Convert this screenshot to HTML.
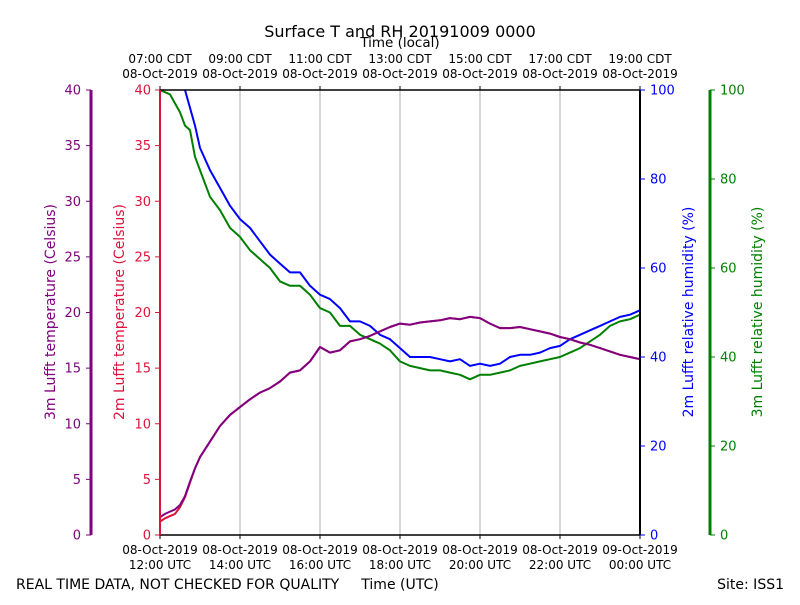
<!DOCTYPE html>
<html><head><meta charset="utf-8"><style>
body{margin:0;background:#fff}
svg{font-family:"DejaVu Sans","Liberation Sans",sans-serif}
</style></head><body>
<svg id="c" width="800" height="600" viewBox="0 0 800 600"></svg>
<script>
const hours=[0,0.125,0.25,0.375,0.5,0.625,0.75,0.875,1,1.25,1.5,1.75,2,2.25,2.5,2.75,3,3.25,3.5,3.75,4,4.25,4.5,4.75,5,5.25,5.5,5.75,6,6.25,6.5,6.75,7,7.25,7.5,7.75,8,8.25,8.5,8.75,9,9.25,9.5,9.75,10,10.25,10.5,10.75,11,11.25,11.5,11.75,12];
const temp3m=[1.6,1.9,2.1,2.3,2.7,3.5,4.8,6.0,7.0,8.4,9.8,10.8,11.5,12.2,12.8,13.2,13.8,14.6,14.8,15.6,16.9,16.4,16.6,17.4,17.6,17.9,18.3,18.7,19.0,18.9,19.1,19.2,19.3,19.5,19.4,19.6,19.5,19.0,18.6,18.6,18.7,18.5,18.3,18.1,17.8,17.6,17.3,17.1,16.8,16.5,16.2,16.0,15.8];
const temp2m=[1.2,1.5,1.7,1.9,2.5,3.4,4.7,6.0,7.0,8.4,9.8,10.8,11.5,12.2,12.8,13.2,13.8,14.6,14.8,15.6,16.9,16.4,16.6,17.4,17.6,17.9,18.3,18.7,19.0,18.9,19.1,19.2,19.3,19.5,19.4,19.6,19.5,19.0,18.6,18.6,18.7,18.5,18.3,18.1,17.8,17.6,17.3,17.1,16.8,16.5,16.2,16.0,15.8];
const rh2m=[106,106,105,103,101,100,96,92,87,82,78,74,71,69,66,63,61,59,59,56,54,53,51,48,48,47,45,44,42,40,40,40,39.5,39,39.5,38,38.5,38,38.5,40,40.5,40.5,41,42,42.5,44,45,46,47,48,49,49.5,50.5];
const rh3m=[100,99.5,99,97,95,92,91,85,82,76,73,69,67,64,62,60,57,56,56,54,51,50,47,47,45,44,43,41.5,39,38,37.5,37,37,36.5,36,35,36,36,36.5,37,38,38.5,39,39.5,40,41,42,43.5,45,47,48,48.5,49.5];
const tempTicks=[0,5,10,15,20,25,30,35,40];
const rhTicks=[0,20,40,60,80,100];
const utcLabels=["08-Oct-2019|12:00 UTC","08-Oct-2019|14:00 UTC","08-Oct-2019|16:00 UTC","08-Oct-2019|18:00 UTC","08-Oct-2019|20:00 UTC","08-Oct-2019|22:00 UTC","09-Oct-2019|00:00 UTC"];
const localLabels=["07:00 CDT|08-Oct-2019","09:00 CDT|08-Oct-2019","11:00 CDT|08-Oct-2019","13:00 CDT|08-Oct-2019","15:00 CDT|08-Oct-2019","17:00 CDT|08-Oct-2019","19:00 CDT|08-Oct-2019"];
const L=160,R=640,T=90,B=535;
const X=h=>L+h*(R-L)/12;
const YT=v=>B-v*(B-T)/40;
const YR=v=>B-v*(B-T)/100;
const svg=document.getElementById('c');const NS='http://www.w3.org/2000/svg';
function el(tag,a,txt){const e=document.createElementNS(NS,tag);for(const k in a)e.setAttribute(k,a[k]);if(txt!==undefined)e.textContent=txt;svg.appendChild(e);return e;}
const cp=el('clipPath',{id:'pc'});const cr=document.createElementNS(NS,'rect');cr.setAttribute('x',L);cr.setAttribute('y',T);cr.setAttribute('width',R-L);cr.setAttribute('height',B-T);cp.appendChild(cr);
for(let i=1;i<6;i++){const g=el('line',{x1:X(i*2),x2:X(i*2),y1:T,y2:B,stroke:'#b0b0b0','stroke-width':1});

}
function series(vals,yf,color,name){const d=vals.map((v,i)=>(i?'L':'M')+X(hours[i]).toFixed(1)+','+yf(v).toFixed(1)).join('');
const p=el('path',{d:d,fill:'none',stroke:color,'stroke-width':2,'clip-path':'url(#pc)','stroke-linejoin':'round'});

}
series(rh3m,YR,'green','rh-3m-line');
series(rh2m,YR,'blue','rh-2m-line');
series(temp2m,YT,'crimson','temp-2m-line');
series(temp3m,YT,'purple','temp-3m-line');
el('line',{x1:L,x2:R,y1:T,y2:T,stroke:'#000','stroke-width':1.5});
el('line',{x1:L,x2:R,y1:B,y2:B,stroke:'#000','stroke-width':1.5});
el('line',{x1:L,x2:L,y1:T,y2:B,stroke:'crimson','stroke-width':2});
el('line',{x1:R,x2:R,y1:T,y2:B,stroke:'#000','stroke-width':2});
el('line',{x1:91,x2:91,y1:T,y2:B,stroke:'purple','stroke-width':3});
el('line',{x1:710,x2:710,y1:T,y2:B,stroke:'green','stroke-width':3});
tempTicks.forEach(v=>{const y=YT(v);
el('line',{x1:86,x2:91,y1:y,y2:y,stroke:'purple','stroke-width':1});
const a=el('text',{x:81,y:y+4.5,'text-anchor':'end','font-size':13,fill:'purple'},v);


el('line',{x1:155,x2:160,y1:y,y2:y,stroke:'crimson','stroke-width':1});
const b=el('text',{x:151,y:y+4.5,'text-anchor':'end','font-size':13,fill:'crimson'},v);

});
rhTicks.forEach(v=>{const y=YR(v);
el('line',{x1:640,x2:645,y1:y,y2:y,stroke:'blue','stroke-width':1});
const a=el('text',{x:650,y:y+4.5,'font-size':13,fill:'blue'},v);


el('line',{x1:710,x2:715,y1:y,y2:y,stroke:'green','stroke-width':1});
const b=el('text',{x:720,y:y+4.5,'font-size':13,fill:'green'},v);

});
utcLabels.forEach((s,i)=>{const x=X(i*2);const p=s.split('|');
el('line',{x1:x,x2:x,y1:B,y2:B+4,stroke:'#000'});
el('line',{x1:x,x2:x,y1:T,y2:T-4,stroke:'#000'});
const a=el('text',{x:x,y:554,'text-anchor':'middle','font-size':12},p[0]);


const b=el('text',{x:x,y:569,'text-anchor':'middle','font-size':12},p[1]);


const q=localLabels[i].split('|');
const c=el('text',{x:x,y:63,'text-anchor':'middle','font-size':12},q[0]);


const d=el('text',{x:x,y:78,'text-anchor':'middle','font-size':12},q[1]);

});
</script>
<svg width="800" height="600" style="position:absolute;left:0;top:0" font-family="DejaVu Sans, Liberation Sans, sans-serif">
<text x="400" y="37" text-anchor="middle" font-size="16">Surface T and RH 20191009 0000</text>
<text x="400" y="47" text-anchor="middle" font-size="13.5">Time (local)</text>
<text x="400" y="589" text-anchor="middle" font-size="14">Time (UTC)</text>
<text x="16" y="589" font-size="14">REAL TIME DATA, NOT CHECKED FOR QUALITY</text>
<text x="784" y="589" text-anchor="end" font-size="14">Site: ISS1</text>
<text transform="translate(55,312) rotate(-90)" text-anchor="middle" font-size="14" fill="purple">3m Lufft temperature (Celsius)</text>
<text transform="translate(124,312) rotate(-90)" text-anchor="middle" font-size="14" fill="crimson">2m Lufft temperature (Celsius)</text>
<text transform="translate(693,312) rotate(-90)" text-anchor="middle" font-size="14" fill="blue">2m Lufft relative humidity (%)</text>
<text transform="translate(762,312) rotate(-90)" text-anchor="middle" font-size="14" fill="green">3m Lufft relative humidity (%)</text>
</svg>
</body></html>
